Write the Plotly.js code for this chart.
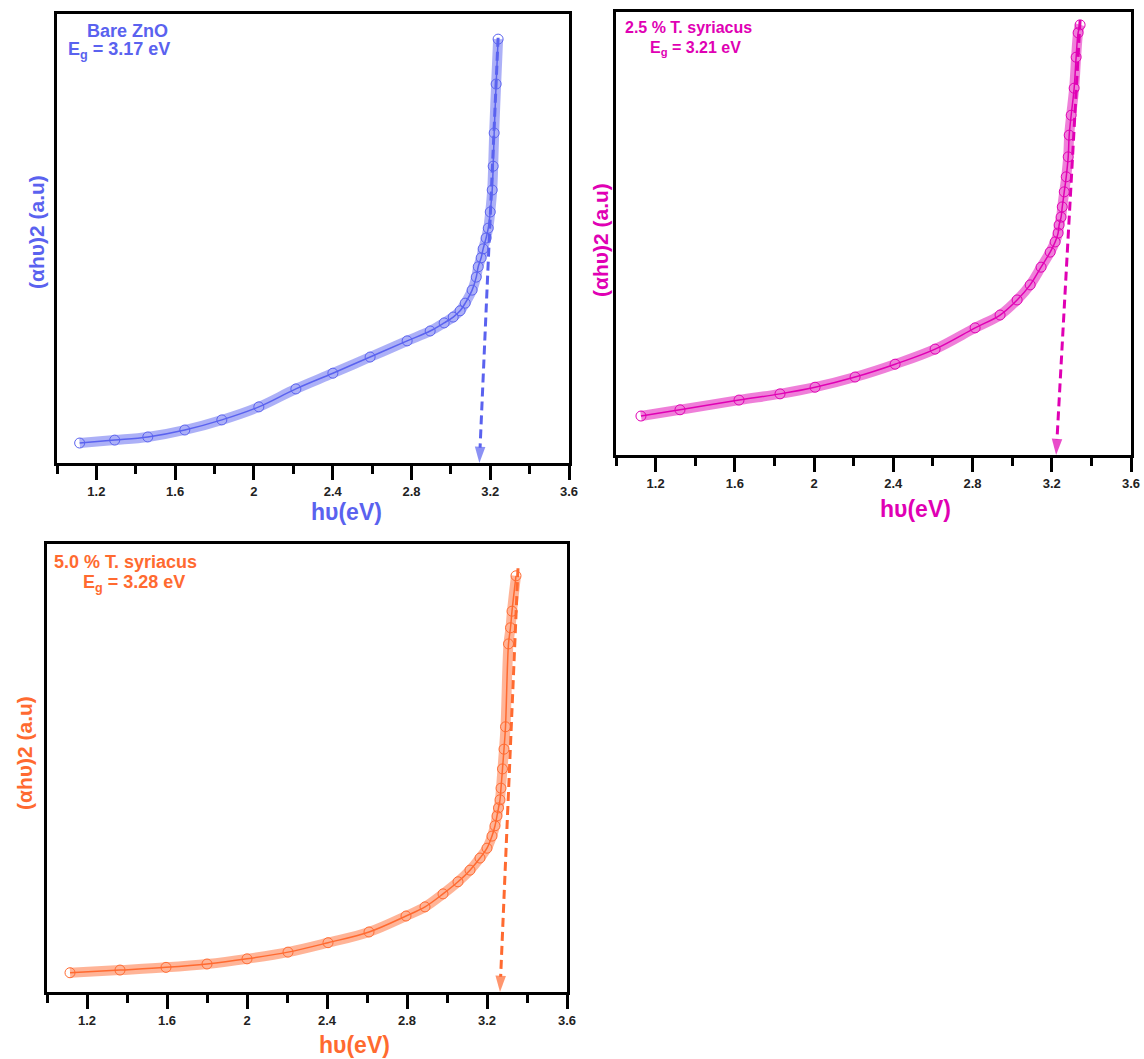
<!DOCTYPE html>
<html>
<head>
<meta charset="utf-8">
<script src="https://cdn.plot.ly/plotly-3.0.1.min.js"></script>
<style>html,body{margin:0;padding:0;background:#fff;}#chart{width:1144px;height:1059px;}</style>
</head>
<body>
<div id="chart"></div>
<script>
// ---- data (x: photon energy hν in eV, y: (αhν)^2 in arbitrary units) ----
const bareX = [1.115,1.293,1.461,1.649,1.837,2.025,2.213,2.401,2.590,2.778,2.895,2.966,3.012,3.047,3.073,3.108,3.129,3.139,3.154,3.164,3.179,3.190,3.200,3.210,3.215,3.220,3.230,3.240];
const bareY = [4.45,5.1,5.8,7.35,9.6,12.5,16.5,20.0,23.6,27.2,29.4,31.2,32.5,33.9,35.6,38.5,41.4,43.7,45.7,47.7,50.1,52.3,55.9,60.8,66.1,73.5,84.4,94.4];

const ts25X = [1.126,1.323,1.621,1.828,2.005,2.207,2.409,2.611,2.813,2.939,3.025,3.091,3.146,3.192,3.217,3.232,3.237,3.247,3.253,3.263,3.273,3.283,3.288,3.298,3.313,3.323,3.333,3.343];
const ts25Y = [8.8,10.2,12.4,13.8,15.3,17.6,20.5,23.9,28.7,31.6,35.0,38.4,42.4,45.8,48.1,50.1,51.9,53.7,56.0,59.4,62.8,67.3,72.2,76.7,82.8,89.8,95.3,97.1];

const ts50X = [1.115,1.365,1.595,1.80,2.0,2.205,2.405,2.61,2.795,2.89,2.98,3.055,3.115,3.165,3.20,3.225,3.24,3.25,3.2575,3.265,3.27,3.2775,3.285,3.2925,3.3075,3.3175,3.325,3.345];
const ts50Y = [4.3,4.9,5.5,6.25,7.4,8.9,11.0,13.4,16.96,19.0,21.9,24.6,27.2,29.9,32.1,34.8,37.1,39.3,41.1,42.9,45.5,49.8,54.2,59.2,77.7,81.3,85.0,92.9];

// extrapolation (band-gap) arrows: [top point, x-intercept]
const bareFitX = [3.24, 3.145];  const bareFitY = [94.7, 0];
const ts25FitX = [3.343, 3.222]; const ts25FitY = [98.2, 0];
const ts50FitX = [3.355, 3.265]; const ts50FitY = [94.6, 0];

const majorTicks = [1.2, 1.6, 2, 2.4, 2.8, 3.2, 3.6];
const minorTicks = [1.0, 1.4, 1.8, 2.2, 2.6, 3.0, 3.4];
const xRange = [1.0, 3.6];
const yRange = [0, 100];

const labels = {
  bare: ["Bare ZnO", "E<sub>g</sub> = 3.17 eV"],
  ts25: ["2.5 % T. syriacus", "E<sub>g</sub> = 3.21 eV"],
  ts50: ["5.0 % T. syriacus", "E<sub>g</sub> = 3.28 eV"]
};
const xTitle = "hυ(eV)";
const yTitle = "(αhυ)2 (a.u)";

// ---- styling ----
const BLUE = "#5a62ef", MAG = "#e000b4", ORA = "#ff6a30";
const FONT = "Liberation Sans, Arial, sans-serif";
const W = 1144, H = 1059;
const px = v => v / W, py = v => 1 - v / H;

function series(x, y, color, xa, ya, fx, fy) {
  return [
    {x: x, y: y, xaxis: xa, yaxis: ya, mode: "lines", line: {color: color, width: 10, shape: "spline"}, opacity: 0.5, hoverinfo: "skip"},
    {x: x, y: y, xaxis: xa, yaxis: ya, mode: "lines+markers", line: {color: color, width: 1.5, shape: "spline"},
     marker: {symbol: "circle-open", size: 10, color: color, line: {width: 1, color: color}}},
    {x: fx, y: fy, xaxis: xa, yaxis: ya, mode: "lines+markers", line: {color: color, width: 3, dash: "9px,5px"},
     marker: {symbol: "arrow", size: [0, 17], angleref: "previous", color: color, line: {width: 0}}}
  ];
}

const data = [].concat(
  series(bareX, bareY, BLUE, "x", "y", bareFitX, bareFitY),
  series(ts25X, ts25Y, MAG, "x2", "y2", ts25FitX, ts25FitY),
  series(ts50X, ts50Y, ORA, "x3", "y3", ts50FitX, ts50FitY)
);

function xax(dom, anchor) {
  return {domain: dom, anchor: anchor, range: xRange, showline: true, mirror: true, linewidth: 3, linecolor: "#000",
    ticks: "outside", ticklen: 14, tickwidth: 3, tickcolor: "#000", tickvals: majorTicks,
    minor: {tickvals: minorTicks, ticks: "outside", ticklen: 8, tickwidth: 3, tickcolor: "#000", showgrid: false},
    showgrid: false, zeroline: false, tickfont: {family: FONT, size: 13, color: "#222", weight: "bold"}, fixedrange: true};
}
function yax(dom, anchor) {
  return {domain: dom, anchor: anchor, range: yRange, showline: true, mirror: true, linewidth: 3, linecolor: "#000",
    ticks: "", showticklabels: false, showgrid: false, zeroline: false, fixedrange: true};
}

function txt(text, x, y, color, size, xanchor, angle) {
  return {text: text, xref: "paper", yref: "paper", x: px(x), y: py(y), xanchor: xanchor || "center", yanchor: "middle",
    showarrow: false, textangle: angle || 0, font: {family: FONT, size: size, color: color, weight: "bold"}};
}

const annotations = [
  txt(labels.bare[0], 127, 31, BLUE, 18, "center"),
  txt(labels.bare[1], 66, 51, BLUE, 18, "left"),
  txt(labels.ts25[0], 623, 28, MAG, 16, "left"),
  txt(labels.ts25[1], 648, 48, MAG, 16, "left"),
  txt(labels.ts50[0], 52, 562, ORA, 18, "left"),
  txt(labels.ts50[1], 81, 583, ORA, 18, "left"),
  txt(xTitle, 346, 512, BLUE, 23, "center"),
  txt(xTitle, 915, 509, MAG, 23, "center"),
  txt(xTitle, 354, 1045, ORA, 23, "center"),
  txt(yTitle, 37, 232, BLUE, 21, "center", -90),
  txt(yTitle, 600, 240, MAG, 21, "center", -90),
  txt(yTitle, 24, 753, ORA, 21, "center", -90)
];

const layout = {
  width: W, height: H, margin: {l: 0, r: 0, t: 0, b: 0}, paper_bgcolor: "#fff", plot_bgcolor: "#fff",
  showlegend: false, font: {family: FONT},
  xaxis: xax([px(57), px(569)], "y"),   yaxis: yax([py(463), py(14)], "x"),
  xaxis2: xax([px(616), px(1131)], "y2"), yaxis2: yax([py(455), py(12)], "x2"),
  xaxis3: xax([px(47), px(567)], "y3"),  yaxis3: yax([py(992), py(544)], "x3"),
  annotations: annotations
};

Plotly.newPlot("chart", data, layout, {displayModeBar: false, staticPlot: true});
</script>
</body>
</html>
